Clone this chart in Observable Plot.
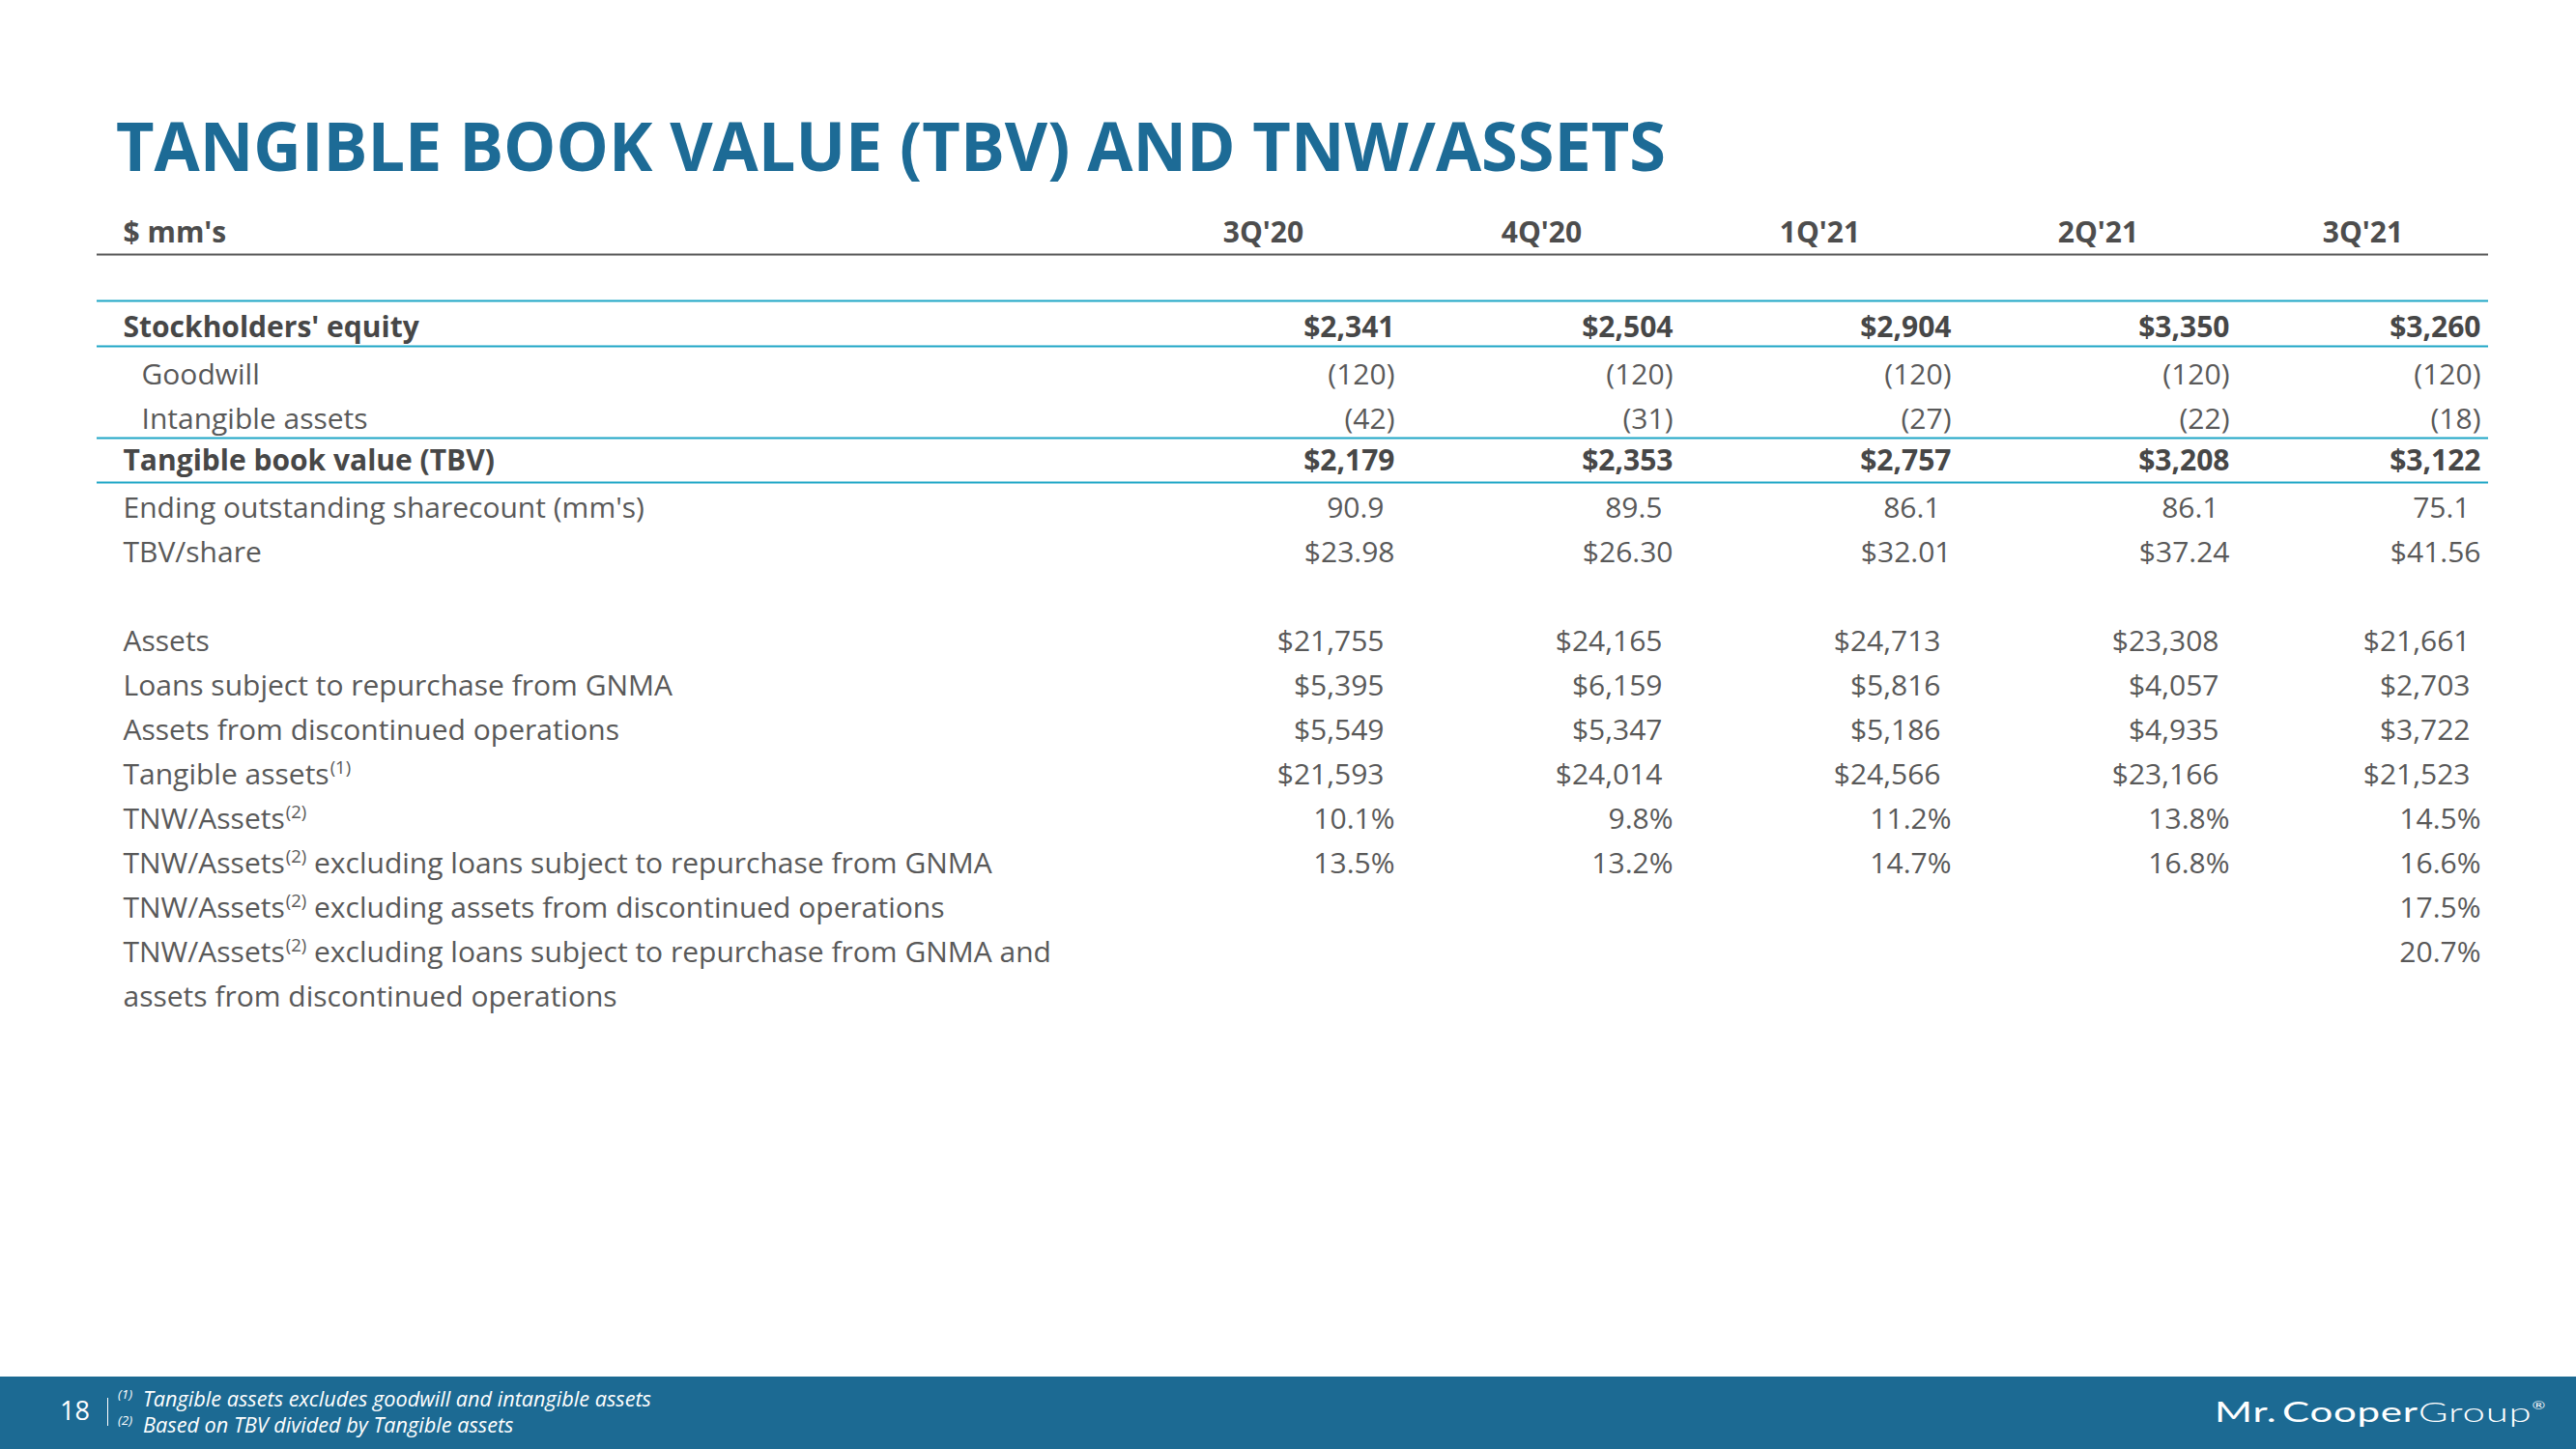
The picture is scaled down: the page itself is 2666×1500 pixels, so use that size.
<!DOCTYPE html>
<html>
<head>
<meta charset="utf-8">
<script src="https://cdn.jsdelivr.net/npm/d3@7"></script>
<script src="https://cdn.jsdelivr.net/npm/@observablehq/plot@0.6"></script>
<style>
  html, body { margin: 0; padding: 0; background: #ffffff; }
  #page { position: relative; width: 2666px; height: 1500px; overflow: hidden; font-family: "Open Sans", sans-serif; }
  #title { position: relative; height: 200px; }
  #title h1 { position: absolute; left: 120px; top: 115px; margin: 0; font-size: 69px; line-height: 70px; font-weight: 700; color: #1D6B96; white-space: nowrap; transform-origin: 0 0; }
  #chart { position: relative; height: 1225px; }
  #chart svg { display: block; }
  #footer { position: absolute; left: 0; top: 1425px; width: 2666px; height: 75px; background: #1C6A93; color: #ffffff; }
  #pg { position: absolute; left: 62px; top: 21px; font-size: 27px; line-height: 27px; }
  #bar { position: absolute; left: 111px; top: 22px; height: 29px; border-left: 1.5px solid #ffffff; }
  .note { position: absolute; left: 122px; font-size: 21.7px; line-height: 27px; font-style: italic; white-space: nowrap; }
  .note .sup { display: inline-block; width: 26px; font-size: 13.5px; vertical-align: 8px; }
  #note1 { top: 5px; }
  #note2 { top: 32px; }
  #logo { position: absolute; left: 2292px; top: 16px; font-family: Lato, "Open Sans", sans-serif; font-size: 28px; line-height: 28px; white-space: nowrap; transform-origin: 0 0; letter-spacing: 0.5px; word-spacing: -4px; }
  #logo .grp { font-weight: 300; }
  #logo .reg { font-size: 11px; vertical-align: 13px; }
</style>
</head>
<body>
<div id="page">
  <div id="title"><h1 id="titleText">TANGIBLE BOOK VALUE (TBV) AND TNW/ASSETS</h1></div>
  <div id="chart"></div>
  <div id="footer">
    <span id="pg">18</span><span id="bar"></span>
    <div class="note" id="note1"><span class="sup">(1)</span>Tangible assets excludes goodwill and intangible assets</div>
    <div class="note" id="note2"><span class="sup">(2)</span>Based on TBV divided by Tangible assets</div>
    <div id="logo"><span class="mr">Mr. Cooper</span><span class="grp">Group</span><span class="reg">®</span></div>
  </div>
</div>
<script>
// ---------------- DATA ----------------
const unitsLabel = "$ mm's";
const quarters = ["3Q'20", "4Q'20", "1Q'21", "2Q'21", "3Q'21"];

const stockholdersEquity = [2341, 2504, 2904, 3350, 3260];
const goodwill = [-120, -120, -120, -120, -120];
const intangibleAssets = [-42, -31, -27, -22, -18];
const tangibleBookValue = [2179, 2353, 2757, 3208, 3122];
const shareCount = [90.9, 89.5, 86.1, 86.1, 75.1];
const tbvPerShare = [23.98, 26.30, 32.01, 37.24, 41.56];
const assets = [21755, 24165, 24713, 23308, 21661];
const gnmaLoans = [5395, 6159, 5816, 4057, 2703];
const discontinuedAssets = [5549, 5347, 5186, 4935, 3722];
const tangibleAssets = [21593, 24014, 24566, 23166, 21523];
const tnwAssets = [10.1, 9.8, 11.2, 13.8, 14.5];
const tnwExGnma = [13.5, 13.2, 14.7, 16.8, 16.6];
const tnwExDiscontinued = [null, null, null, null, 17.5];
const tnwExBoth = [null, null, null, null, 20.7];

const rowLabels = [
  "Stockholders' equity",
  "Goodwill",
  "Intangible assets",
  "Tangible book value (TBV)",
  "Ending outstanding sharecount (mm's)",
  "TBV/share",
  "Assets",
  "Loans subject to repurchase from GNMA",
  "Assets from discontinued operations",
  "Tangible assets\u207D\u00B9\u207E",
  "TNW/Assets\u207D\u00B2\u207E",
  "TNW/Assets\u207D\u00B2\u207E excluding loans subject to repurchase from GNMA",
  "TNW/Assets\u207D\u00B2\u207E excluding assets from discontinued operations",
  "TNW/Assets\u207D\u00B2\u207E excluding loans subject to repurchase from GNMA and\nassets from discontinued operations"
];

// ---------------- FORMATS ----------------
const fmtDollar = d3.format("$,");
const fmtParen = v => `(${d3.format(",")(-v)})`;
const fmtOne = d3.format(".1f");
const fmtDollar2 = d3.format("$.2f");
const fmtPct = v => d3.format(".1f")(v) + "%";

// ---------------- TABLE STRUCTURE ----------------
const rowSpecs = [
  {key: "se",   label: rowLabels[0],  values: stockholdersEquity, fmt: fmtDollar, bold: true},
  {key: "gw",   label: rowLabels[1],  values: goodwill,           fmt: fmtParen, indent: true},
  {key: "ia",   label: rowLabels[2],  values: intangibleAssets,   fmt: fmtParen, indent: true},
  {key: "tbv",  label: rowLabels[3],  values: tangibleBookValue,  fmt: fmtDollar, bold: true},
  {key: "shr",  label: rowLabels[4],  values: shareCount,         fmt: fmtOne, pad: true},
  {key: "tps",  label: rowLabels[5],  values: tbvPerShare,        fmt: fmtDollar2},
  {key: "ast",  label: rowLabels[6],  values: assets,             fmt: fmtDollar, pad: true},
  {key: "gnma", label: rowLabels[7],  values: gnmaLoans,          fmt: fmtDollar, pad: true},
  {key: "disc", label: rowLabels[8],  values: discontinuedAssets, fmt: fmtDollar, pad: true},
  {key: "tang", label: rowLabels[9],  values: tangibleAssets,     fmt: fmtDollar, pad: true},
  {key: "tnw",  label: rowLabels[10], values: tnwAssets,          fmt: fmtPct},
  {key: "tnwG", label: rowLabels[11], values: tnwExGnma,          fmt: fmtPct},
  {key: "tnwD", label: rowLabels[12], values: tnwExDiscontinued,  fmt: fmtPct},
  {key: "tnwB", label: rowLabels[13], values: tnwExBoth,          fmt: fmtPct}
];

const labelRows = rowSpecs.flatMap(r => r.label.split("\n").map((line, j) => ({
  key: j === 0 ? r.key : r.key + "_" + j, text: line, bold: !!r.bold, indent: !!r.indent
})));

const rowOrder = ["hdr", "gap1", "se", "gw", "ia", "tbv", "shr", "tps", "gap2",
  "ast", "gnma", "disc", "tang", "tnw", "tnwG", "tnwD", "tnwB", "tnwB_1"];

const cells = rowSpecs.flatMap(r => r.values.map((v, i) => v == null ? null : ({
  row: r.key, q: quarters[i], text: r.fmt(v), bold: !!r.bold, pad: !!r.pad
})).filter(Boolean));

// ---------------- LAYOUT ----------------
const W = 2666, H = 1225;
const tableLeft = 100, tableRight = 2575;
const colWidth = 288, lastColWidth = 260;
const cellRights = quarters.map((q, i) => i === quarters.length - 1 ? tableRight : tableRight - lastColWidth - (quarters.length - 2 - i) * colWidth);

const grey = "#595959", dark = "#474747", teal = "#1EA6C6";
const fs = 30;

function build(xOpts) {
  return Plot.plot({
    width: W, height: H,
    marginLeft: tableLeft, marginRight: W - tableRight, marginTop: 50, marginBottom: 393,
    x: xOpts,
    y: {type: "point", domain: rowOrder, padding: 0, axis: null},
    style: {fontFamily: "'Open Sans', sans-serif", background: "transparent", overflow: "visible"},
    marks: [
      Plot.ruleY(["hdr"], {y: d => d, dy: 13, stroke: "#575757", strokeWidth: 2.2}),
      Plot.ruleY(["se"], {y: d => d, dy: -31, stroke: teal, strokeWidth: 2}),
      Plot.ruleY(["se"], {y: d => d, dy: 16, stroke: teal, strokeWidth: 2}),
      Plot.ruleY(["tbv"], {y: d => d, dy: -27, stroke: teal, strokeWidth: 2}),
      Plot.ruleY(["tbv"], {y: d => d, dy: 19, stroke: teal, strokeWidth: 2}),
      // header row
      Plot.text([unitsLabel], {frameAnchor: "left", y: () => "hdr", text: d => d, textAnchor: "start", dx: 27, dy: -9, fontSize: fs, fontWeight: 700, fill: "#4d4d4d"}),
      Plot.text(quarters.slice(0, -1), {x: d => d, y: () => "hdr", text: d => d, textAnchor: "middle", dx: -colWidth / 2, dy: -9, fontSize: fs, fontWeight: 700, fill: "#4d4d4d"}),
      Plot.text(quarters.slice(-1), {x: d => d, y: () => "hdr", text: d => d, textAnchor: "middle", dx: -lastColWidth / 2, dy: -9, fontSize: fs, fontWeight: 700, fill: "#4d4d4d"}),
      // row labels
      Plot.text(labelRows.filter(d => !d.bold && !d.indent), {frameAnchor: "left", y: "key", text: "text", textAnchor: "start", dx: 27, fontSize: fs, fill: grey}),
      Plot.text(labelRows.filter(d => d.indent), {frameAnchor: "left", y: "key", text: "text", textAnchor: "start", dx: 46, fontSize: fs, fill: grey}),
      Plot.text(labelRows.filter(d => d.bold), {frameAnchor: "left", y: "key", text: "text", textAnchor: "start", dx: 27, dy: -3, fontSize: fs, fontWeight: 700, fill: dark}),
      // values
      Plot.text(cells.filter(d => !d.bold && !d.pad), {x: "q", y: "row", text: "text", textAnchor: "end", dx: -8, fontSize: fs, fill: grey}),
      Plot.text(cells.filter(d => !d.bold && d.pad), {x: "q", y: "row", text: "text", textAnchor: "end", dx: -19, fontSize: fs, fill: grey}),
      Plot.text(cells.filter(d => d.bold), {x: "q", y: "row", text: "text", textAnchor: "end", dx: -8, dy: -3, fontSize: fs, fontWeight: 700, fill: dark})
    ]
  });
}

let chart;
try {
  chart = build({type: "ordinal", domain: quarters, range: cellRights, axis: null});
} catch (e) {
  chart = build({type: "point", domain: quarters, range: [cellRights[0], cellRights[cellRights.length - 1]], axis: null});
}
document.getElementById("chart").appendChild(chart);

// superscripts inside labels
const supMap = {"\u207D": "(", "\u207E": ")", "\u00B9": "1", "\u00B2": "2"};
const supRe = /([\u207D\u207E\u00B9\u00B2]+)/;
const NS = "http://www.w3.org/2000/svg";
chart.querySelectorAll("text").forEach(t => {
  const s = t.textContent;
  if (!supRe.test(s)) return;
  t.textContent = "";
  let raised = false;
  for (const p of s.split(supRe)) {
    if (!p) continue;
    const ts = document.createElementNS(NS, "tspan");
    if (p.split("").every(c => c in supMap)) {
      ts.textContent = p.split("").map(c => supMap[c]).join("");
      ts.setAttribute("font-size", "18.5");
      ts.setAttribute("dy", "-11");
      ts.setAttribute("dx", "1");
      raised = true;
    } else {
      ts.textContent = p;
      if (raised) { ts.setAttribute("dy", "11"); raised = false; }
    }
    t.appendChild(ts);
  }
});

// fit title and logo widths
function fitWidth(el, target) {
  const w = el.getBoundingClientRect().width;
  if (w > 0) el.style.transform = `scaleX(${target / w})`;
}
fitWidth(document.getElementById("titleText"), 1604);
fitWidth(document.getElementById("logo"), 343);
</script>
</body>
</html>
